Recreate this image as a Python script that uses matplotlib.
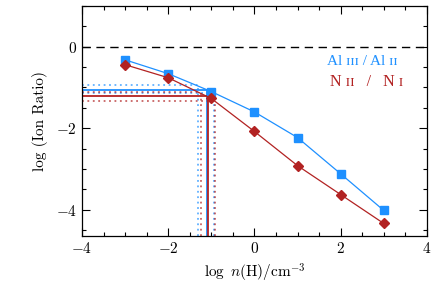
import numpy as np
import matplotlib
matplotlib.use("Agg")
import matplotlib.pyplot as plt
from matplotlib.ticker import MultipleLocator

plt.rcParams['mathtext.fontset'] = 'cm'
plt.rcParams['font.family'] = 'serif'
plt.rcParams['font.serif'] = ['cmr10', 'DejaVu Serif']
plt.rcParams['axes.formatter.use_mathtext'] = True

# data
log_nH = [-3, -2, -1, 0, 1, 2, 3]
al_ratio = [-0.32, -0.66, -1.10, -1.60, -2.23, -3.12, -4.02]
n_ratio = [-0.44, -0.76, -1.27, -2.08, -2.92, -3.63, -4.34]

# observed ratios (value, low, high) and the matching densities
al_obs = [-1.05, -1.14, -0.94]
al_dens = [-1.11, -0.94, -1.30]
n_obs = [-1.22, -1.32, -1.12]
n_dens = [-1.07, -0.91, -1.25]

blue = '#1E90FF'
red = '#B22222'

fig = plt.figure(figsize=(4.36, 2.90), dpi=100)
ax = fig.add_axes([0.188, 0.186, 0.791, 0.793])
xmin, ymin = -4, -4.65

ax.axhline(0, color='black', lw=1.0, ls=(0, (6, 4)))

# observed levels: horizontal from the left edge, vertical down to the bottom
for obs, dens, col in [(al_obs, al_dens, blue), (n_obs, n_dens, red)]:
    for i in range(3):
        ls = '-' if i == 0 else (0, (1, 2))
        a = 1 if i == 0 else 0.7
        ax.plot([xmin, dens[i]], [obs[i], obs[i]], color=col, lw=1.3, ls=ls, alpha=a)
        ax.plot([dens[i], dens[i]], [ymin, obs[i]], color=col, lw=1.3, ls=ls, alpha=a)

ax.plot(log_nH, al_ratio, color=blue, lw=0.9, marker='s', ms=5.5, zorder=5)
ax.plot(log_nH, n_ratio, color=red, lw=0.9, marker='D', ms=5, zorder=5)

ax.set_xlim(xmin, 4)
ax.set_ylim(ymin, 1.0)
ax.xaxis.set_major_locator(MultipleLocator(2))
ax.xaxis.set_minor_locator(MultipleLocator(0.5))
ax.yaxis.set_major_locator(MultipleLocator(2))
ax.yaxis.set_minor_locator(MultipleLocator(0.5))
ax.tick_params(which='both', direction='in', top=True, right=True, labelsize=11)
ax.tick_params(which='major', length=6, width=0.8)
ax.tick_params(which='minor', length=3, width=0.8)
for s in ax.spines.values():
    s.set_linewidth(0.9)

ax.set_xlabel(r'$\log\ n(\mathrm{H})/\mathrm{cm}^{-3}$', fontsize=11, labelpad=4)
ax.set_ylabel('log (Ion Ratio)', fontsize=11, labelpad=6)

ax.text(0.71, 0.76, 'Al ɪɪɪ / Al ɪɪ', color=blue, fontsize=11, ha='left', va='center',
        transform=ax.transAxes, family=['Liberation Serif', 'DejaVu Serif'])
ax.text(0.72, 0.67, 'N ɪɪ   /   N ɪ', color=red, fontsize=11.5, ha='left', va='center',
        transform=ax.transAxes, family=['Liberation Serif', 'DejaVu Serif'])

fig.savefig('out.png', dpi=100)
